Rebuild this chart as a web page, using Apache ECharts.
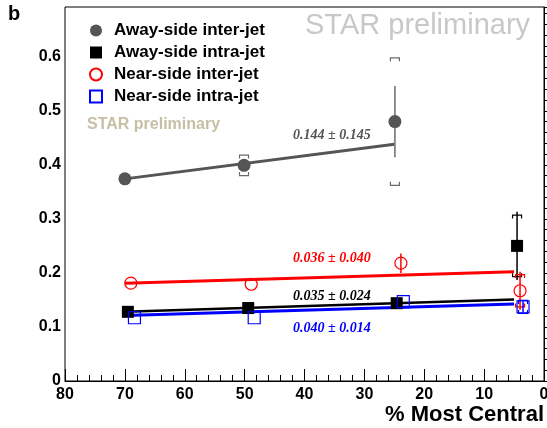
<!DOCTYPE html>
<html><head><meta charset="utf-8">
<script src="https://cdn.jsdelivr.net/npm/echarts@6/dist/echarts.min.js"></script>
<style>html,body{margin:0;padding:0;background:#fff}#c{width:547px;height:428px}</style>
</head><body><div id="c"></div><script>
// ---- data ----
const seriesNames = ['Away-side inter-jet', 'Away-side intra-jet', 'Near-side inter-jet', 'Near-side intra-jet'];
const awayInterX = [70.0, 50.1, 24.9];
const awayInterY = [0.374, 0.399, 0.480];
const awayInterStat = [0, 0.010, 0.066];
const awayInterSys = [0, 0.019, 0.118];
const awayIntraX = [69.5, 49.4, 24.6, 4.5];
const awayIntraY = [0.128, 0.135, 0.144, 0.250];
const awayIntraStat = [0, 0, 0, 0.063];
const awayIntraSys = [0, 0, 0, 0.057];
const nearInterX = [69.0, 48.9, 23.9, 4.0];
const nearInterY = [0.181, 0.179, 0.218, 0.167];
const nearInterStat = [0, 0, 0.018, 0.035];
const nearInterSys = [0, 0, 0, 0.030];
const nearIntraX = [68.4, 48.4, 23.5, 3.5];
const nearIntraY = [0.117, 0.117, 0.147, 0.137];
const nearIntraStat = [0, 0, 0, 0.010];
const nearIntraSys = [0, 0, 0, 0.012];
// linear fits: [x start, x end] and [y start, y end]
const fitAwayInterX = [70, 25], fitAwayInterY = [0.374, 0.438];
const fitAwayIntraX = [70, 5], fitAwayIntraY = [0.128, 0.151];
const fitNearInterX = [70, 5], fitNearInterY = [0.181, 0.202];
const fitNearIntraX = [70, 5], fitNearIntraY = [0.121, 0.1425];
const fitLabels = ['0.144 \u00b1 0.145', '0.035 \u00b1 0.024', '0.036 \u00b1 0.040', '0.040 \u00b1 0.014'];
const xTitle = '% Most Central';

// ---- styling ----
const colors = ['#555555', '#000000', '#ff0000', '#0000ff'];
const barColors = ['#6a6a6a', '#000000', '#ff0000', '#0000ff'];
const SANS = '"Liberation Sans", Arial, sans-serif';
const SERIF = '"Liberation Serif", "Times New Roman", serif';

const groups = [
  {x: awayInterX, y: awayInterY, st: awayInterStat, sy: awayInterSys, fx: fitAwayInterX, fy: fitAwayInterY,
   symbol: 'circle', size: 13, fill: colors[0], border: colors[0]},
  {x: awayIntraX, y: awayIntraY, st: awayIntraStat, sy: awayIntraSys, fx: fitAwayIntraX, fy: fitAwayIntraY,
   symbol: 'rect', size: 12, fill: colors[1], border: colors[1]},
  {x: nearInterX, y: nearInterY, st: nearInterStat, sy: nearInterSys, fx: fitNearInterX, fy: fitNearInterY,
   symbol: 'circle', size: 12, fill: 'rgba(255,255,255,0)', border: colors[2]},
  {x: nearIntraX, y: nearIntraY, st: nearIntraStat, sy: nearIntraSys, fx: fitNearIntraX, fy: fitNearIntraY,
   symbol: 'rect', size: 12, fill: 'rgba(255,255,255,0)', border: colors[3]}
];
const fitWidths = [3, 2.5, 3, 3];
const labelPos = [[293, 135], [293, 296], [293, 258], [293, 328]];

const series = [];
groups.forEach((g, i) => {
  series.push({
    type: 'line', name: 'fit' + i, data: g.fx.map((v, k) => [v, g.fy[k]]),
    symbol: 'none', lineStyle: {color: colors[i], width: fitWidths[i]}, z: 2, silent: true
  });
});
groups.forEach((g, i) => {
  series.push({
    type: 'custom', name: 'err' + i, z: 3, silent: true,
    data: g.x.map((v, k) => [v, g.y[k], g.st[k], g.sy[k]]),
    encode: {x: 0, y: 1},
    renderItem: function (params, api) {
      const x = api.value(0), y = api.value(1), st = api.value(2), sy = api.value(3);
      const c = api.coord([x, y]);
      const children = [];
      const col = barColors[i];
      if (st > 0) {
        const t = api.coord([x, y + st]), b = api.coord([x, y - st]);
        children.push({type: 'line', shape: {x1: c[0], y1: t[1], x2: c[0], y2: b[1]},
          style: {stroke: col, lineWidth: 1.5}});
      }
      if (sy > 0) {
        const t = api.coord([x, y + sy])[1], b = api.coord([x, y - sy])[1];
        const w = 4.5, tl = Math.min(3.5, (b - t) / 2);
        children.push({type: 'polyline', shape: {points: [[c[0] - w, t + tl], [c[0] - w, t], [c[0] + w, t], [c[0] + w, t + tl]]},
          style: {stroke: col, lineWidth: 1.2, fill: null}});
        children.push({type: 'polyline', shape: {points: [[c[0] - w, b - tl], [c[0] - w, b], [c[0] + w, b], [c[0] + w, b - tl]]},
          style: {stroke: col, lineWidth: 1.2, fill: null}});
      }
      return {type: 'group', children: children};
    }
  });
});
groups.forEach((g, i) => {
  series.push({
    type: 'scatter', name: seriesNames[i], z: 4,
    data: g.x.map((v, k) => [v, g.y[k]]),
    symbol: g.symbol, symbolSize: g.size,
    itemStyle: {color: g.fill, borderColor: g.border, borderWidth: (i >= 2 ? 1.2 : 0), opacity: 1},
    emphasis: {disabled: true}
  });
});

const graphics = [
  {type: 'text', left: 8, top: 4, style: {text: 'b', font: 'bold 20px ' + SANS, fill: '#000'}},
  {type: 'text', x: 305, y: 26, style: {text: 'STAR preliminary', font: '29px ' + SANS, fill: '#c8c8c8', verticalAlign: 'middle'}},
  {type: 'text', x: 87, y: 125, style: {text: 'STAR preliminary', font: 'bold 16px ' + SANS, fill: '#c6bfa4', verticalAlign: 'middle'}},
  {type: 'text', x: 544, y: 415, style: {text: xTitle, font: 'bold 22px ' + SANS, fill: '#000', align: 'right', verticalAlign: 'middle'}}
];
fitLabels.forEach((t, i) => {
  graphics.push({type: 'text', x: labelPos[i][0], y: labelPos[i][1],
    style: {text: t, font: 'italic bold 14px ' + SERIF, fill: colors[i], verticalAlign: 'middle'}});
});

const chart = echarts.init(document.getElementById('c'), null, {renderer: 'canvas'});
chart.setOption({
  animation: false,
  backgroundColor: '#fff',
  grid: {left: 65, right: 3, top: 7, bottom: 47, show: true, borderColor: '#000', borderWidth: 1,
    containLabel: false, outerBoundsMode: 'none'},
  legend: {
    orient: 'vertical', left: 84, top: 17, itemWidth: 12, itemHeight: 12, itemGap: 5,
    selectedMode: false, data: seriesNames,
    textStyle: {fontFamily: SANS, fontWeight: 'bold', fontSize: 17, color: '#000', padding: [0, 0, 0, 7], lineHeight: 17}
  },
  xAxis: {
    type: 'value', min: 0, max: 80, interval: 10, inverse: true,
    axisLine: {show: true, lineStyle: {color: '#000', width: 1}},
    axisTick: {show: true, inside: true, length: 12, lineStyle: {color: '#000', width: 1}},
    minorTick: {show: true, splitNumber: 5, length: 6, lineStyle: {color: '#000', width: 1}},
    axisLabel: {fontFamily: SANS, fontWeight: 'bold', fontSize: 16, color: '#000', margin: 6},
    splitLine: {show: false}, minorSplitLine: {show: false}
  },
  yAxis: {
    type: 'value', min: 0, max: 0.692, interval: 0.1,
    axisLine: {show: true, lineStyle: {color: '#000', width: 1}},
    axisTick: {show: true, inside: true, length: 15, lineStyle: {color: '#000', width: 1}},
    minorTick: {show: true, splitNumber: 5, length: 8, lineStyle: {color: '#000', width: 1}},
    axisLabel: {fontFamily: SANS, fontWeight: 'bold', fontSize: 16, color: '#000', margin: 4,
      showMaxLabel: false,
      formatter: v => (Math.abs(v * 10 - Math.round(v * 10)) < 1e-6) ? (Math.round(v * 10) === 0 ? '0' : (Math.round(v * 10) / 10).toFixed(1)) : ''},
    splitLine: {show: false}, minorSplitLine: {show: false}
  },
  graphic: graphics,
  series: series
});
</script></body></html>
